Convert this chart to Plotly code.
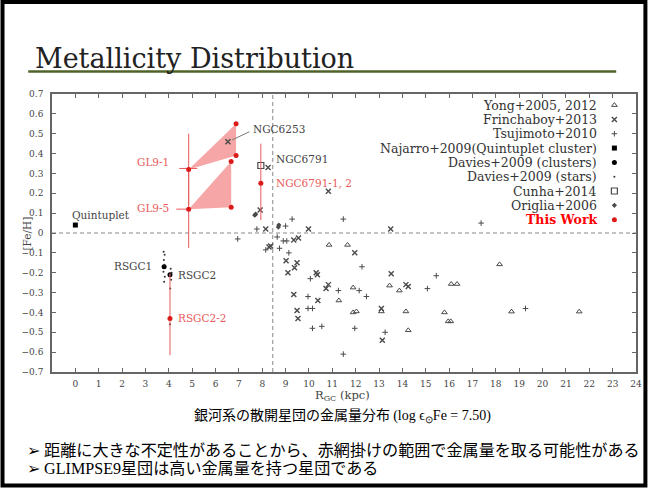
import plotly.graph_objects as go

# ---------------- data ----------------
yong_x = [10.86, 11.65, 11.89, 13.45, 13.87, 11.28, 11.89, 12.03, 13.10, 14.15, 15.80, 14.25,
          16.09, 16.34, 18.16, 15.96, 16.07, 18.67, 21.57]
yong_y = [-0.06, -0.06, -0.275, -0.265, -0.29, -0.34, -0.40, -0.395, -0.395, -0.395, -0.40, -0.49,
          -0.257, -0.257, -0.158, -0.445, -0.445, -0.396, -0.396]

frin_x = [6.53, 8.25, 10.83, 7.91, 8.15, 9.98, 13.50, 9.35, 9.55, 8.29, 8.36, 11.96, 9.02, 9.49,
          9.38, 9.10, 10.31, 10.36, 13.52, 10.83, 10.73, 14.15, 14.25, 9.35, 10.38, 9.49, 9.53,
          13.10, 13.14]
frin_y = [0.46, 0.33, 0.21, 0.116, 0.02, 0.02, 0.02, -0.035, -0.025, -0.07, -0.065, -0.10, -0.14,
          -0.15, -0.175, -0.20, -0.20, -0.21, -0.205, -0.26, -0.28, -0.26, -0.27, -0.31, -0.34,
          -0.39, -0.43, -0.38, -0.54]

tsuji_x = [9.28, 11.47, 7.77, 9.00, 6.95, 8.90, 9.05, 8.64, 8.15, 8.74, 9.14, 12.27, 10.06, 15.45,
           11.26, 12.15, 15.07, 9.96, 12.46, 9.96, 10.15, 10.15, 10.55, 11.96, 13.26, 11.47, 19.27,
           17.37]
tsuji_y = [0.07, 0.07, 0.02, 0.035, -0.03, -0.04, -0.04, -0.02, -0.085, -0.077, -0.10, -0.17, -0.23,
           -0.215, -0.29, -0.29, -0.28, -0.32, -0.32, -0.38, -0.38, -0.48, -0.47, -0.48, -0.50,
           -0.61, -0.38, 0.05]

najarro_x = [0.0]
najarro_y = [0.04]

davies_cl_x = [3.80, 4.05]
davies_cl_y = [-0.17, -0.21]

davies_st_x = [3.78, 3.82, 3.79, 3.81, 3.77, 3.83, 3.80, 4.08, 4.12, 4.04, 4.10, 4.06, 4.05]
davies_st_y = [-0.094, -0.11, -0.136, -0.16, -0.195, -0.22, -0.245, -0.18, -0.20, -0.21, -0.235,
               -0.28, -0.46]

cunha_x = [7.94]
cunha_y = [0.34]

origlia_x = [7.68, 7.72, 8.69, 8.71]
origlia_y = [0.09, 0.095, 0.03, 0.04]

tw_x = [4.85, 4.85, 7.94, 4.05]
tw_y = [0.32, 0.12, 0.25, -0.43]
tw_err_plus = [0.18, 0.19, 0.20, 0.225]
tw_err_minus = [0.18, 0.195, 0.185, 0.185]

tw_alt_x = [6.88, 6.88, 6.67, 6.67]
tw_alt_y = [0.55, 0.39, 0.36, 0.13]

gl91_poly_x = [4.85, 6.88, 6.88]
gl91_poly_y = [0.32, 0.55, 0.39]
gl95_poly_x = [4.85, 6.67, 6.67]
gl95_poly_y = [0.12, 0.36, 0.13]

gl91_lead_x = [4.45, 5.22]
gl91_lead_y = [0.325, 0.325]
gl95_lead_x = [4.32, 4.85]
gl95_lead_y = [0.12, 0.12]
ngc6253_lead_x = [6.70, 7.45]
ngc6253_lead_y = [0.468, 0.51]

r_sun = 8.45

black_labels = [("NGC6253", 7.50, 0.524, "left"), ("NGC6791", 8.52, 0.373, "left"),
                ("Quintuplet", -0.22, 0.09, "left"), ("RSGC1", 3.35, -0.166, "right"),
                ("RSGC2", 4.30, -0.21, "left")]
red_labels = [("GL9-1", 4.11, 0.36, "right"), ("GL9-5", 4.11, 0.125, "right"),
              ("NGC6791-1, 2", 8.52, 0.25, "left"), ("RSGC2-2", 4.30, -0.43, "left")]

legend_labels = ["Yong+2005, 2012", "Frinchaboy+2013", "Tsujimoto+2010",
                 "Najarro+2009(Quintuplet cluster)", "Davies+2009 (clusters)",
                 "Davies+2009 (stars)", "Cunha+2014", "Origlia+2006", "This Work"]

x_ticks = list(range(0, 25))

# ---------------- styles ----------------
GRAY = "#4a4a4a"
RED = "#dd1a1a"
LRED = "#e85a5a"
PINK = "rgba(245,150,150,0.85)"
SERIF = "DejaVu Serif"

series_styles = [
    dict(symbol="triangle-up-open", size=5, color=GRAY, line=dict(width=1, color=GRAY)),
    dict(symbol="x-thin", size=5, color=GRAY, line=dict(width=1.4, color=GRAY)),
    dict(symbol="cross-thin", size=4, color=GRAY, line=dict(width=1, color=GRAY)),
    dict(symbol="square", size=5, color="black", line=dict(width=0)),
    dict(symbol="circle", size=5, color="black", line=dict(width=0)),
    dict(symbol="circle", size=2, color="#333", line=dict(width=0)),
    dict(symbol="square-open", size=6, color=GRAY, line=dict(width=1.2, color=GRAY)),
    dict(symbol="diamond", size=4, color=GRAY, line=dict(width=0)),
    dict(symbol="circle", size=5, color=RED, line=dict(width=0)),
]

fig = go.Figure()

# shaded distance ranges
for px_, py_ in [(gl91_poly_x, gl91_poly_y), (gl95_poly_x, gl95_poly_y)]:
    fig.add_trace(go.Scatter(x=px_, y=py_, fill="toself", fillcolor=PINK, mode="lines",
                             line=dict(width=0, color=PINK), hoverinfo="skip", showlegend=False))

# reference dashed lines
fig.add_trace(go.Scatter(x=[-1, 24], y=[0, 0], mode="lines",
                         line=dict(color="#888", width=1, dash="4px,3px"), showlegend=False))
fig.add_trace(go.Scatter(x=[r_sun, r_sun], y=[-0.7, 0.7], mode="lines",
                         line=dict(color="#888", width=1, dash="4px,3px"), showlegend=False))

# leader lines
for lx, ly, c in [(gl91_lead_x, gl91_lead_y, LRED), (gl95_lead_x, gl95_lead_y, LRED),
                  (ngc6253_lead_x, ngc6253_lead_y, "#777")]:
    fig.add_trace(go.Scatter(x=lx, y=ly, mode="lines", line=dict(color=c, width=1),
                             showlegend=False))

# literature series
lit = [(yong_x, yong_y), (frin_x, frin_y), (tsuji_x, tsuji_y), (najarro_x, najarro_y),
       (davies_cl_x, davies_cl_y), (davies_st_x, davies_st_y), (cunha_x, cunha_y),
       (origlia_x, origlia_y)]
for (sx, sy), st in zip(lit, series_styles[:8]):
    fig.add_trace(go.Scatter(x=sx, y=sy, mode="markers", marker=st, showlegend=False))

# this work
fig.add_trace(go.Scatter(x=tw_x, y=tw_y, mode="markers", marker=series_styles[8],
                         error_y=dict(type="data", symmetric=False, array=tw_err_plus,
                                      arrayminus=tw_err_minus, color=LRED, thickness=1, width=0),
                         showlegend=False))
fig.add_trace(go.Scatter(x=tw_alt_x, y=tw_alt_y, mode="markers", marker=series_styles[8],
                         showlegend=False))

# custom legend (text right, symbol at right)
leg_top = 0.960
leg_step = 0.0515
leg_y = [leg_top - i * leg_step for i in range(len(legend_labels))]
for i, lab in enumerate(legend_labels):
    st = dict(series_styles[i])
    fig.add_trace(go.Scatter(x=[0.963], y=[leg_y[i]], mode="markers", marker=st,
                             xaxis="x2", yaxis="y2", showlegend=False))
    is_tw = lab == "This Work"
    fig.add_annotation(x=0.937, y=leg_y[i], xref="paper", yref="paper", xanchor="right",
                       yanchor="middle", showarrow=False,
                       text=("<b>%s</b>" % lab) if is_tw else lab,
                       font=dict(family=SERIF, size=12.5, color="#ff0000" if is_tw else "#333"))

for t, lx, ly, anc in black_labels:
    fig.add_annotation(x=lx, y=ly, text=t, showarrow=False, xanchor=anc, yanchor="middle",
                       font=dict(family=SERIF, size=10.5, color="#444"))
for t, lx, ly, anc in red_labels:
    fig.add_annotation(x=lx, y=ly, text=t, showarrow=False, xanchor=anc, yanchor="middle",
                       font=dict(family=SERIF, size=10.5, color=LRED))

# axis titles
fig.add_annotation(x=-0.042, y=0.5, xref="paper", yref="paper", text="[Fe/H]", textangle=-90,
                   xanchor="center", yanchor="middle",
                   showarrow=False, font=dict(family=SERIF, size=10.5, color="#444"))
fig.add_annotation(x=0.497, y=-0.085, xref="paper", yref="paper", xanchor="center",
                   yanchor="middle", text="R<sub>GC</sub> (kpc)", showarrow=False,
                   font=dict(family=SERIF, size=11.5, color="#444"))

# caption and bullets
fig.add_annotation(x=0.497, y=-0.153, xref="paper", yref="paper", showarrow=False,
                   xanchor="center", yanchor="middle",
                   text="銀河系の散開星団の金属量分布 <span style='font-family:Liberation Serif'>(log ϵ<sub>⊙</sub>Fe = 7.50)</span>",
                   font=dict(family="Noto Sans CJK JP", size=14, color="black"))
fig.add_annotation(x=-0.047, y=-0.277, xref="paper", yref="paper", xanchor="left",
                   yanchor="middle", showarrow=False,
                   text="<span style='font-family:DejaVu Sans'>➢</span> 距離に大きな不定性があることから、赤網掛けの範囲で金属量を取る可能性がある",
                   font=dict(family="Noto Sans CJK JP", size=16.1, color="black"))
fig.add_annotation(x=-0.047, y=-0.343, xref="paper", yref="paper", xanchor="left",
                   yanchor="middle", showarrow=False,
                   text="<span style='font-family:DejaVu Sans'>➢</span> <span style='font-family:Liberation Serif'>GLIMPSE9</span>星団は高い金属量を持つ星団である",
                   font=dict(family="Noto Sans CJK JP", size=16.1, color="black"))

# title
fig.add_annotation(x=-0.032, y=1.128, xref="paper", yref="paper", xanchor="left",
                   yanchor="middle", showarrow=False, text="Metallicity Distribution",
                   font=dict(family=SERIF, size=27, color="#222"))

W, H = 653, 488
L, R, T, B = 52, 11, 94, 116
PW, PH = W - L - R, H - T - B


def px(xp):
    return (xp - L) / PW


def py(yp):
    return (H - B - yp) / PH


fig.add_shape(type="line", xref="paper", yref="paper", x0=px(28), x1=px(622), y0=py(71.5),
              y1=py(71.5), line=dict(color="#4f6228", width=2.5))
fig.add_shape(type="rect", xref="paper", yref="paper", x0=px(2), x1=px(651.5), y0=py(485.5),
              y1=py(2), line=dict(color="black", width=4))

axis_common = dict(showline=True, linecolor="#666", linewidth=1.5, mirror="ticks",
                   ticks="inside", ticklen=4, tickcolor="#666", showgrid=False, zeroline=False,
                   tickfont=dict(family=SERIF, size=9, color="#444"))

fig.update_layout(
    width=W, height=H, margin=dict(l=L, r=R, t=T, b=B),
    paper_bgcolor="white", plot_bgcolor="white", showlegend=False,
    xaxis=dict(range=[-1, 24], tickvals=x_ticks, ticklabelstandoff=2, **axis_common),
    yaxis=dict(range=[-0.7, 0.7], dtick=0.1, tick0=0, ticklabelstandoff=5, **axis_common),
    xaxis2=dict(range=[0, 1], overlaying="x", visible=False),
    yaxis2=dict(range=[0, 1], overlaying="y", visible=False),
)

fig.write_html("out.html", config={"displayModeBar": False},
               post_script="document.body.style.margin='0';document.body.style.overflow='hidden';")
